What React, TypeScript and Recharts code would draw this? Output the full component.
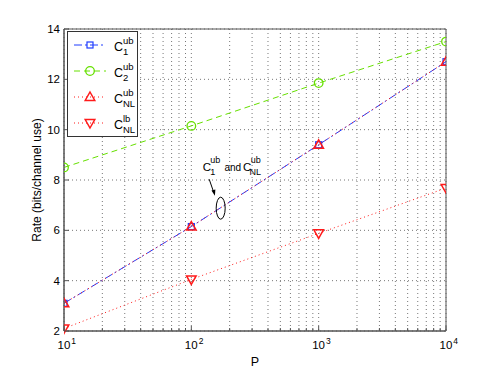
import { CartesianGrid, Line, LineChart, ReferenceArea, ReferenceDot, XAxis, YAxis } from 'recharts';

const FONT = '"Liberation Sans", Arial, Helvetica, sans-serif';

// P values (log axis) and the four rate curves
const pValues = [10, 100, 1000, 10000];
const c1Ub = [3.1, 6.15, 9.4, 12.7];
const c2Ub = [8.5, 10.15, 11.85, 13.5];
const cNlUb = [3.1, 6.15, 9.4, 12.7];
const cNlLb = [2.1, 4.05, 5.88, 7.68];

const xTicks = [
  10, 20, 30, 40, 50, 60, 70, 80, 90,
  100, 200, 300, 400, 500, 600, 700, 800, 900,
  1000, 2000, 3000, 4000, 5000, 6000, 7000, 8000, 9000,
  10000,
];
const xMajor = [10, 100, 1000, 10000];
const yTicks = [2, 4, 6, 8, 10, 12, 14];

const COL = {
  axis: '#555',
  grid: '#777',
  blue: '#1f3dff',
  green: '#66e000',
  red: '#ff1a1a',
};

const data = pValues.map((p, i) => ({
  p,
  c1Ub: c1Ub[i],
  c2Ub: c2Ub[i],
  cNlUb: cNlUb[i],
  cNlLb: cNlLb[i],
}));

const Square = ({ cx, cy, stroke }: any) => (
  <rect x={cx - 3} y={cy - 3} width={6} height={6} fill='none' stroke={stroke} strokeWidth={1.2} />
);
const Circ = ({ cx, cy, stroke }: any) => <circle cx={cx} cy={cy} r={4.3} fill='none' stroke={stroke} strokeWidth={1.3} />;
const TriUp = ({ cx, cy, stroke }: any) => (
  <path d={`M${cx},${cy - 5} L${cx + 4.8},${cy + 3.5} L${cx - 4.8},${cy + 3.5} Z`} fill='none' stroke={stroke} strokeWidth={1.5} />
);
const TriDown = ({ cx, cy, stroke }: any) => (
  <path d={`M${cx},${cy + 5} L${cx + 4.8},${cy - 3.5} L${cx - 4.8},${cy - 3.5} Z`} fill='none' stroke={stroke} strokeWidth={1.5} />
);

function BottomTick({ x, y, payload }: any) {
  const v = payload.value;
  const major = xMajor.includes(v);
  return (
    <g>
      <line x1={x} y1={y} x2={x} y2={y - (major ? 5 : 3)} stroke={COL.axis} />
      {major && (
        <text x={x - 6.5} y={y + 17.5} fontSize={11.5} fontFamily={FONT} fill='#000'>
          10
          <tspan fontSize={8.5} dx={1} dy={-5}>
            {Math.round(Math.log10(v))}
          </tspan>
        </text>
      )}
    </g>
  );
}

function TopTick({ x, y, payload }: any) {
  const major = xMajor.includes(payload.value);
  return <line x1={x} y1={y} x2={x} y2={y + (major ? 5 : 3)} stroke={COL.axis} />;
}

function LeftTick({ x, y, payload }: any) {
  return (
    <g>
      <line x1={x} y1={y} x2={x + 5} y2={y} stroke={COL.axis} />
      <text x={x - 4} y={y + 4} textAnchor='end' fontSize={11.5} fontFamily={FONT} fill='#000'>
        {payload.value}
      </text>
    </g>
  );
}

function RightTick({ x, y }: any) {
  return <line x1={x} y1={y} x2={x - 5} y2={y} stroke={COL.axis} />;
}

// annotation: label, arrow and ellipse around the overlapping C1/CNL upper bounds
function Note({ cx, cy }: any) {
  return (
    <g fontFamily={FONT} fill='#000'>
      <ellipse cx={cx} cy={cy} rx={4.5} ry={11} fill='none' stroke='#000' strokeWidth={1} />
      <line x1={cx - 11.5} y1={cy - 29} x2={cx - 7} y2={cy - 16} stroke='#000' strokeWidth={1} />
      <path d={`M${cx - 5.8},${cy - 12.5} L${cx - 9.2},${cy - 17.6} L${cx - 5.3},${cy - 18.7} Z`} fill='#000' />
      <text x={cx - 18} y={cy - 37.5} fontSize={11.5}>C</text>
      <text x={cx - 10.5} y={cy - 45.5} fontSize={9}>ub</text>
      <text x={cx - 10.5} y={cy - 33} fontSize={9}>1</text>
      <text x={cx + 3.8} y={cy - 37.5} fontSize={10}>and</text>
      <text x={cx + 22.2} y={cy - 37.5} fontSize={11.5}>C</text>
      <text x={cx + 30} y={cy - 45.5} fontSize={9}>ub</text>
      <text x={cx + 28.8} y={cy - 33} fontSize={9}>NL</text>
    </g>
  );
}

const legendItems = [
  { sup: 'ub', sub: '1', color: COL.blue, dash: '8 3 2 3', Mark: Square },
  { sup: 'ub', sub: '2', color: COL.green, dash: '6 4', Mark: Circ },
  { sup: 'ub', sub: 'NL', color: COL.red, dash: '1 3', Mark: TriUp },
  { sup: 'lb', sub: 'NL', color: COL.red, dash: '1 3', Mark: TriDown },
];

function LegendBox() {
  return (
    <svg
      width={71}
      height={106}
      style={{ position: 'absolute', left: 67, top: 31, background: '#fff' }}
      fontFamily={FONT}
    >
      <rect x={0.5} y={0.5} width={70} height={105} fill='#fff' stroke='#333' strokeWidth={1} />
      {legendItems.map((it, i) => {
        const cy = 14 + i * 26;
        return (
          <g key={i}>
            <line x1={7} y1={cy} x2={39} y2={cy} stroke={it.color} strokeDasharray={it.dash} />
            <it.Mark cx={23} cy={cy} stroke={it.color} />
            <text x={47} y={cy + 6} fontSize={12.5}>C</text>
            <text x={56} y={cy - 1} fontSize={9.5}>{it.sup}</text>
            <text x={56} y={cy + 9.5} fontSize={9.5}>{it.sub}</text>
          </g>
        );
      })}
    </svg>
  );
}

export default function App() {
  return (
    <div style={{ position: 'absolute', left: 0, top: 0, width: 491, height: 379, background: '#fff' }}>
      <LineChart width={491} height={379} data={data} margin={{ top: 29, right: 45, bottom: 0, left: 0 }}>
        <CartesianGrid stroke={COL.grid} strokeDasharray='1 3' />
        <XAxis
          dataKey='p'
          type='number'
          scale='log'
          domain={[10, 10000]}
          ticks={xTicks}
          interval={0}
          height={48}
          tickSize={0}
          tickMargin={0}
          tickLine={false}
          tick={<BottomTick />}
          stroke={COL.axis}
          allowDataOverflow
          label={{ value: 'P', position: 'insideBottom', offset: 13, fontSize: 12.5, fontFamily: FONT, fill: '#000' }}
        />
        <XAxis
          xAxisId='top'
          orientation='top'
          dataKey='p'
          type='number'
          scale='log'
          domain={[10, 10000]}
          ticks={xTicks}
          interval={0}
          height={0}
          tickSize={0}
          tickMargin={0}
          tickLine={false}
          tick={<TopTick />}
          stroke={COL.axis}
          allowDataOverflow
        />
        <YAxis
          type='number'
          domain={[2, 14]}
          ticks={yTicks}
          interval={0}
          width={64}
          tickSize={0}
          tickMargin={0}
          tickLine={false}
          tick={<LeftTick />}
          stroke={COL.axis}
          label={{
            value: 'Rate (bits/channel use)',
            angle: -90,
            position: 'insideLeft',
            offset: 37,
            fontSize: 12,
            fontFamily: FONT,
            fill: '#000',
            style: { textAnchor: 'middle' },
          }}
        />
        <YAxis
          yAxisId='right'
          orientation='right'
          type='number'
          domain={[2, 14]}
          ticks={yTicks}
          interval={0}
          width={0}
          tickSize={0}
          tickMargin={0}
          tickLine={false}
          tick={<RightTick />}
          stroke={COL.axis}
        />
        <ReferenceArea x1={10} x2={10000} y1={2} y2={14} fill='none' stroke={COL.axis} ifOverflow='extendDomain' />
        <Line
          dataKey='c2Ub'
          stroke={COL.green}
          strokeWidth={1}
          strokeDasharray='6 4'
          isAnimationActive={false}
          dot={(p: any) => <Circ key={`g${p.index}`} cx={p.cx} cy={p.cy} stroke={COL.green} />}
        />
        <Line
          dataKey='c1Ub'
          stroke={COL.blue}
          strokeWidth={1}
          strokeDasharray='8 3 2 3'
          isAnimationActive={false}
          dot={(p: any) => <Square key={`b${p.index}`} cx={p.cx} cy={p.cy} stroke={COL.blue} />}
        />
        <Line
          dataKey='cNlUb'
          stroke={COL.red}
          strokeWidth={1}
          strokeDasharray='1 3'
          isAnimationActive={false}
          dot={(p: any) => <TriUp key={`ru${p.index}`} cx={p.cx} cy={p.cy} stroke={COL.red} />}
        />
        <Line
          dataKey='cNlLb'
          stroke={COL.red}
          strokeWidth={1}
          strokeDasharray='1 3'
          isAnimationActive={false}
          dot={(p: any) => <TriDown key={`rd${p.index}`} cx={p.cx} cy={p.cy} stroke={COL.red} />}
        />
        <ReferenceDot x={170} y={6.88} r={0} shape={(p: any) => <Note cx={p.cx} cy={p.cy} />} />
      </LineChart>
      <LegendBox />
    </div>
  );
}
